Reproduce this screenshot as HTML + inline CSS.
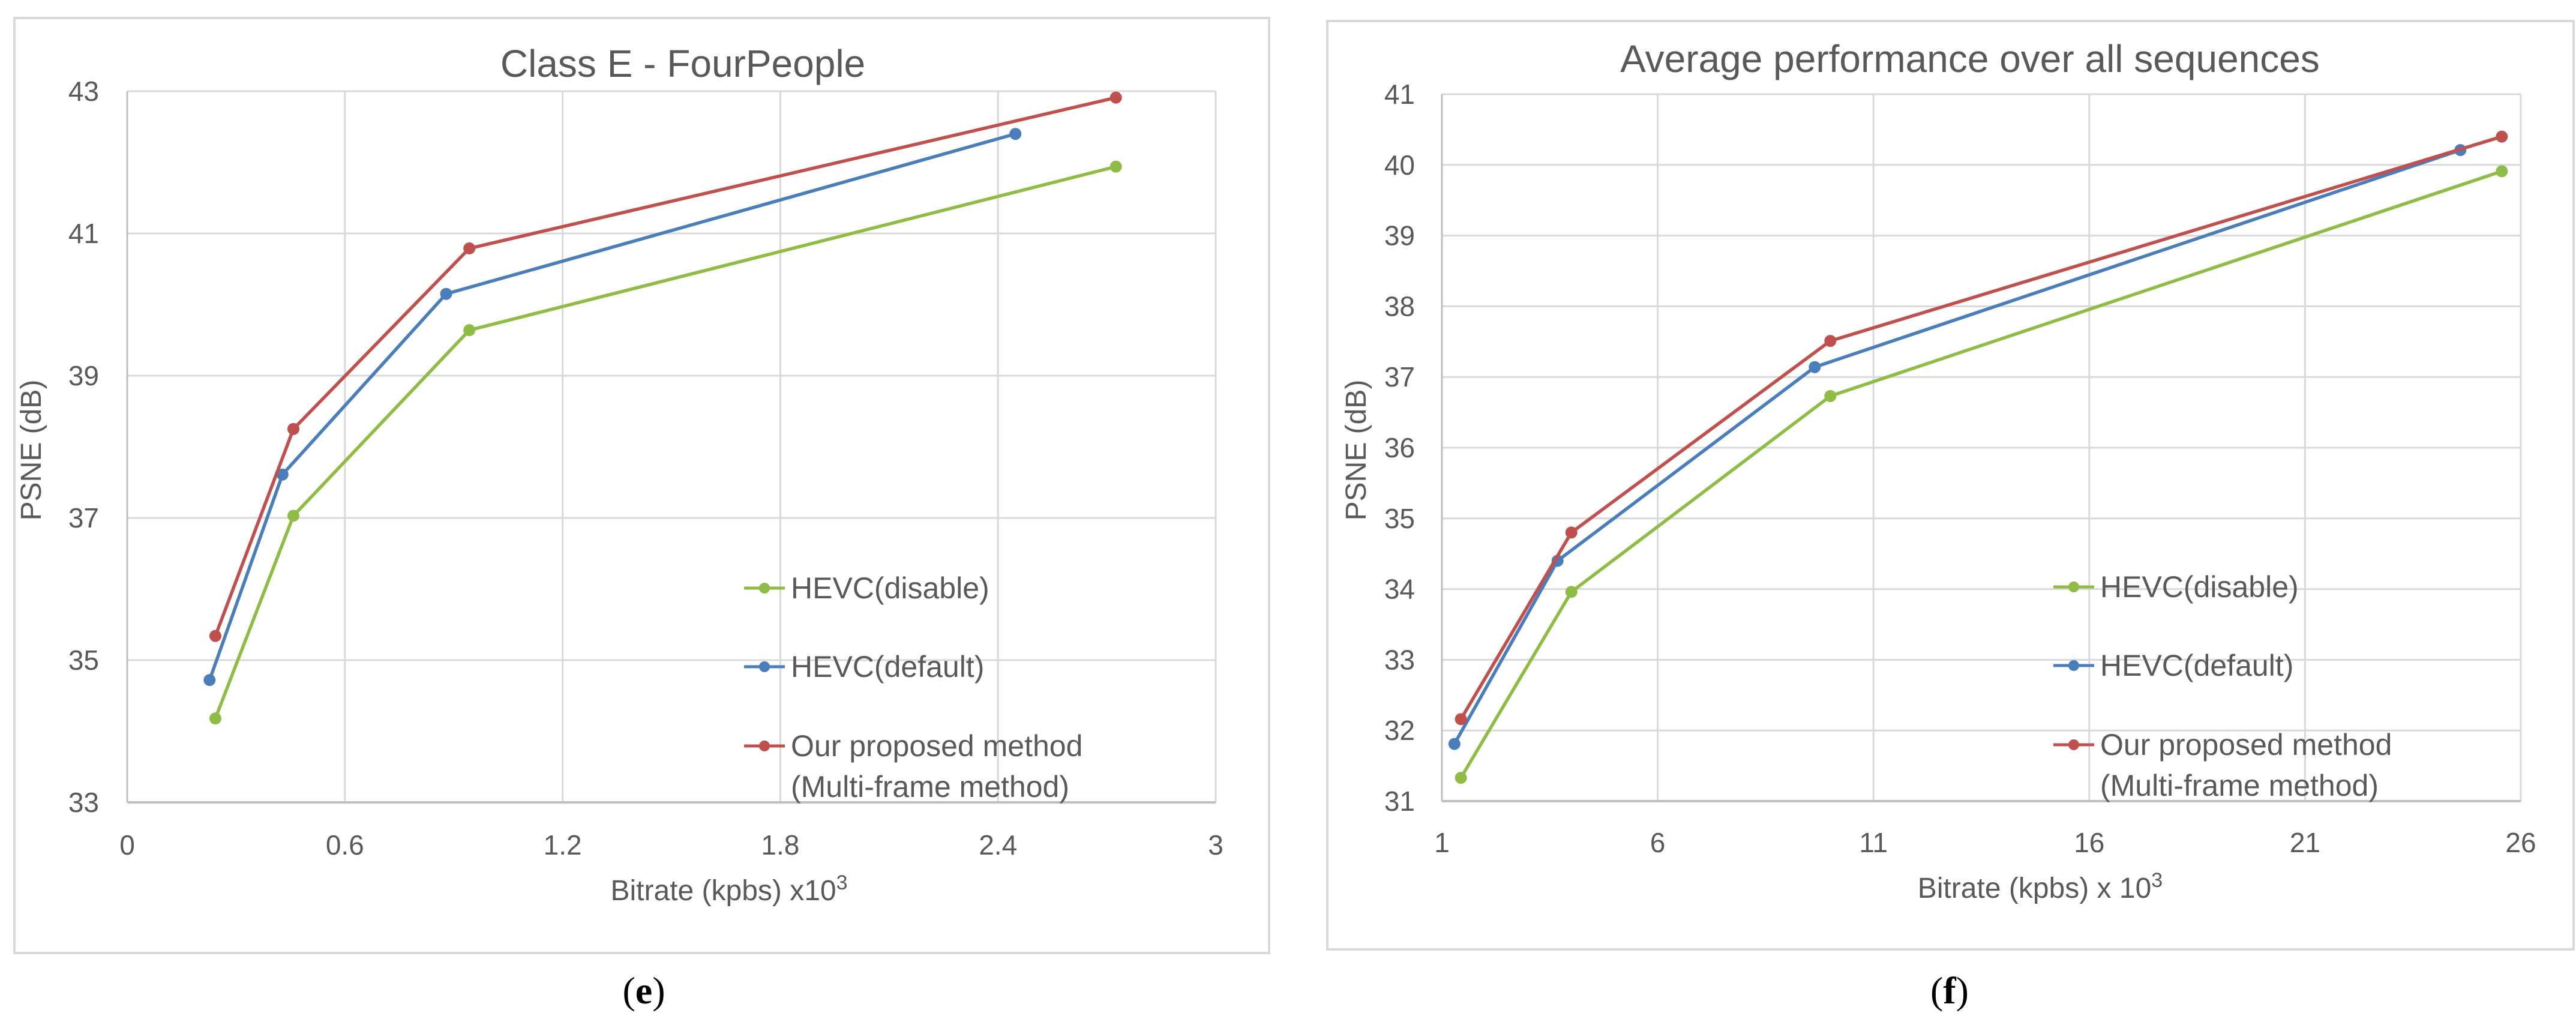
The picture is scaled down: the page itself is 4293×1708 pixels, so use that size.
<!DOCTYPE html>
<html><head><meta charset="utf-8">
<style>
html,body{margin:0;padding:0;background:#fff;}
svg{display:block;}
text{font-family:"Liberation Sans",sans-serif;fill:#595959;}
</style></head>
<body>
<svg id="root" width="4293" height="1708" viewBox="0 0 4293 1708" xmlns="http://www.w3.org/2000/svg">
<rect width="4293" height="1708" fill="#fff"/>
</svg>
<script>
const NS="http://www.w3.org/2000/svg";
const root=document.getElementById('root');

// Chart (e) data
const eSeriesNames=["HEVC(disable)","HEVC(default)","Our proposed method"];
const eGreenX=[0.243,0.458,0.943,2.725];
const eGreenY=[34.18,37.03,39.64,41.94];
const eBlueX=[0.227,0.428,0.879,2.448];
const eBlueY=[34.72,37.61,40.15,42.40];
const eRedX=[0.243,0.458,0.943,2.725];
const eRedY=[35.34,38.25,40.79,42.91];
const eXTicks=[0,0.6,1.2,1.8,2.4,3];
const eXTickLabels=["0","0.6","1.2","1.8","2.4","3"];
const eYTicks=[33,35,37,39,41,43];

// Chart (f) data
const fGreenX=[1.44,4.0,10.0,25.56];
const fGreenY=[31.33,33.96,36.73,39.91];
const fBlueX=[1.29,3.68,9.64,24.6];
const fBlueY=[31.81,34.40,37.14,40.21];
const fRedX=[1.44,4.0,10.0,25.56];
const fRedY=[32.16,34.80,37.51,40.40];
const fXTicks=[1,6,11,16,21,26];
const fXTickLabels=["1","6","11","16","21","26"];
const fYTicks=[31,32,33,34,35,36,37,38,39,40,41];

const COLORS={green:"#8fbc45",blue:"#4a7ebb",red:"#c0504d"};

function el(tag,attrs,parent){const e=document.createElementNS(NS,tag);for(const k in attrs)e.setAttribute(k,attrs[k]);(parent||root).appendChild(e);return e;}

function drawChart(cfg){
  const g=el('g',{});
  
  
  const fr=el('rect',{x:cfg.frame[0],y:cfg.frame[1],width:cfg.frame[2]-cfg.frame[0],height:cfg.frame[3]-cfg.frame[1],fill:'#fff',stroke:'#d9d9d9','stroke-width':4},g);
  
  
  const [x0,x1,y0,y1]=cfg.plot;
  const xs=v=>x0+(v-cfg.xmin)/(cfg.xmax-cfg.xmin)*(x1-x0);
  const ys=v=>y1-(v-cfg.ymin)/(cfg.ymax-cfg.ymin)*(y1-y0);
  cfg.yTicks.forEach(t=>{
    const l=el('line',{x1:x0,x2:x1,y1:ys(t),y2:ys(t),stroke:'#d9d9d9','stroke-width':3},g);
    
    
    const tx=el('text',{x:cfg.yLabelRight,y:ys(t)+16,'text-anchor':'end','font-size':46},g);
    tx.textContent=String(t);
    
    
  });
  cfg.xTicks.forEach((t,i)=>{
    const l=el('line',{x1:xs(t),x2:xs(t),y1:y0,y2:y1,stroke:'#d9d9d9','stroke-width':3},g);
    
    
    const tx=el('text',{x:xs(t),y:cfg.xLabelY,'text-anchor':'middle','font-size':46},g);
    tx.textContent=cfg.xTickLabels[i];
    
    
  });
  const ax=el('line',{x1:x0,x2:x1,y1:y1,y2:y1,stroke:'#bfbfbf','stroke-width':4},g);
  
  
  const ay=el('line',{x1:x0,x2:x0,y1:y0,y2:y1,stroke:'#bfbfbf','stroke-width':3},g);
  
  
  cfg.series.forEach(s=>{
    const pts=s.x.map((v,i)=>xs(v)+','+ys(s.y[i])).join(' ');
    const pl=el('polyline',{points:pts,fill:'none',stroke:s.color,'stroke-width':5.5,'stroke-linejoin':'round'},g);
    
    
    s.x.forEach((v,i)=>{
      const c=el('circle',{cx:xs(v),cy:ys(s.y[i]),r:10,fill:s.color},g);
      
      
    });
  });
  const t=el('text',{x:cfg.titleX,y:cfg.titleY,'text-anchor':'middle','font-size':64},g);
  t.textContent=cfg.title;
  
  
  const xt=el('text',{x:cfg.xTitleX,y:cfg.xTitleY,'text-anchor':'middle','font-size':48},g);
  xt.textContent=cfg.xTitle;
  const sup=el('tspan',{dy:-18,'font-size':34},xt);sup.textContent='3';
  
  
  const yt=el('text',{x:0,y:0,'text-anchor':'middle','font-size':48,transform:`translate(${cfg.yTitleX},${cfg.yTitleY}) rotate(-90)`},g);
  yt.textContent='PSNE (dB)';
  
  
  const lx=cfg.legendX;
  cfg.series.forEach((s,i)=>{
    const ly=cfg.legendY[i];
    const lg=el('g',{},g);
    
    
    el('line',{x1:lx,x2:lx+68,y1:ly,y2:ly,stroke:s.color,'stroke-width':5},lg);
    el('circle',{cx:lx+34,cy:ly,r:9,fill:s.color},lg);
    const tx=el('text',{x:lx+78,y:ly+17,'font-size':50},lg);
    tx.textContent=s.label;
  });
  const t2=el('text',{x:lx+78,y:cfg.legendY[2]+85,'font-size':50},g);
  t2.textContent='(Multi-frame method)';
  
  
  const cap=el('text',{x:cfg.capX,y:1672,'text-anchor':'middle','font-size':64,style:'font-family:"Liberation Serif",serif;fill:#000'},g);
  cap.innerHTML='(<tspan font-weight="bold">'+cfg.cap+'</tspan>)';
  
  
}

drawChart({name:'chart-e',frame:[24,30,2115,1588],plot:[212,2026,152,1337],xmin:0,xmax:3,ymin:33,ymax:43,
  xTicks:eXTicks,xTickLabels:eXTickLabels,yTicks:eYTicks,yLabelRight:165,xLabelY:1424,
  title:'Class E - FourPeople',titleX:1138,titleY:128,xTitle:'Bitrate (kpbs) x10',xTitleX:1215,xTitleY:1500,yTitleX:68,yTitleY:750,
  legendX:1240,legendY:[980,1111,1243],capX:1073,cap:'e',
  series:[{key:'hevc-disable',label:eSeriesNames[0],color:COLORS.green,x:eGreenX,y:eGreenY},
          {key:'hevc-default',label:eSeriesNames[1],color:COLORS.blue,x:eBlueX,y:eBlueY},
          {key:'proposed',label:eSeriesNames[2],color:COLORS.red,x:eRedX,y:eRedY}]});

drawChart({name:'chart-f',frame:[2212,35,4289,1582],plot:[2403,4201,157,1335],xmin:1,xmax:26,ymin:31,ymax:41,
  xTicks:fXTicks,xTickLabels:fXTickLabels,yTicks:fYTicks,yLabelRight:2358,xLabelY:1420,
  title:'Average performance over all sequences',titleX:3283,titleY:120,xTitle:'Bitrate (kpbs) x 10',xTitleX:3400,xTitleY:1496,yTitleX:2276,yTitleY:750,
  legendX:3422,legendY:[978,1109,1241],capX:3249,cap:'f',
  series:[{key:'hevc-disable',label:eSeriesNames[0],color:COLORS.green,x:fGreenX,y:fGreenY},
          {key:'hevc-default',label:eSeriesNames[1],color:COLORS.blue,x:fBlueX,y:fBlueY},
          {key:'proposed',label:eSeriesNames[2],color:COLORS.red,x:fRedX,y:fRedY}]});
</script>
</body></html>
